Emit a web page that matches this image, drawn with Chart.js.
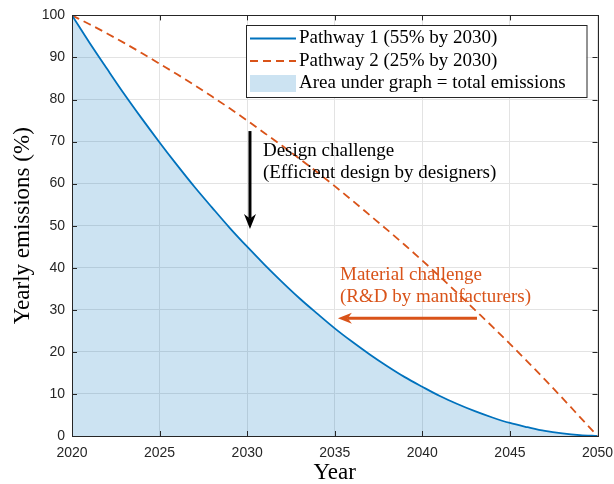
<!DOCTYPE html>
<html>
<head>
<meta charset="utf-8">
<script src="https://cdn.jsdelivr.net/npm/chart.js@4/dist/chart.umd.min.js"></script>
<style>
  html, body { margin: 0; padding: 0; background: #ffffff; }
  #wrap { width: 614px; height: 484px; }
</style>
</head>
<body>
<div id="wrap"><canvas id="c" width="614" height="484"></canvas></div>
<script>
// Years along the horizontal axis
const years = [2020, 2021, 2022, 2023, 2024, 2025, 2026, 2027, 2028, 2029,
               2030, 2031, 2032, 2033, 2034, 2035, 2036, 2037, 2038, 2039,
               2040, 2041, 2042, 2043, 2044, 2045, 2046, 2047, 2048, 2049, 2050];

// Yearly emissions (% of 2020 level), 55% cut by 2030
const pathway1 = [100, 93.5, 87.3, 81.2, 75.4, 69.8, 64.4, 59.2, 54.3, 49.5,
                  45.0, 40.7, 36.6, 32.7, 29.1, 25.6, 22.4, 19.4, 16.6, 14.0,
                  11.7, 9.5, 7.6, 5.9, 4.4, 3.1, 2.1, 1.2, 0.6, 0.2, 0];

// Yearly emissions (% of 2020 level), 25% cut by 2030
const pathway2 = [100, 97.9, 95.7, 93.4, 91.0, 88.5, 86.0, 83.4, 80.7, 77.9,
                  75.0, 72.0, 69.0, 65.9, 62.7, 59.4, 56.0, 52.5, 49.0, 45.4,
                  41.7, 37.9, 34.0, 30.0, 26.0, 21.9, 17.7, 13.4, 9.0, 4.5, 0];

const xTicks = [2020, 2025, 2030, 2035, 2040, 2045, 2050];
const yTicks = [0, 10, 20, 30, 40, 50, 60, 70, 80, 90, 100];

const seriesLabels = ['Pathway 1 (55% by 2030)', 'Pathway 2 (25% by 2030)',
                      'Area under graph = total emissions'];

const BLUE = '#0072BD';
const ORANGE = '#D95319';
const AXIS = '#262626';
const GRID = '#e3e3e3';
const FILL = 'rgba(0,114,189,0.2)';
const SERIF = '"Liberation Serif", "Times New Roman", serif';
const SANS = '"Liberation Sans", Arial, Helvetica, sans-serif';

const toPoints = vals => years.map((y, i) => ({ x: y, y: vals[i] }));

// Box outline with inward tick marks on all four sides
const boxPlugin = {
  id: 'box',
  afterDatasetsDraw(chart) {
    const { ctx, chartArea: a, scales: { x, y } } = chart;
    const len = 5;
    ctx.save();
    ctx.strokeStyle = AXIS;
    ctx.lineWidth = 1;
    ctx.beginPath();
    xTicks.forEach(v => {
      const px = Math.round(x.getPixelForValue(v)) + 0.5;
      ctx.moveTo(px, a.bottom); ctx.lineTo(px, a.bottom - len);
      ctx.moveTo(px, a.top); ctx.lineTo(px, a.top + len);
    });
    yTicks.forEach(v => {
      const py = Math.round(y.getPixelForValue(v)) + 0.5;
      ctx.moveTo(a.left, py); ctx.lineTo(a.left + len, py);
      ctx.moveTo(a.right, py); ctx.lineTo(a.right - len, py);
    });
    ctx.stroke();
    ctx.strokeRect(Math.round(a.left) + 0.5, Math.round(a.top) + 0.5,
                   Math.round(a.right - a.left), Math.round(a.bottom - a.top));
    ctx.restore();
  }
};

// Straight arrow with a swept-back head
function arrow(ctx, x1, y1, x2, y2, color, width, head, spread) {
  const ang = Math.atan2(y2 - y1, x2 - x1);
  const notch = head * 0.7;
  ctx.save();
  ctx.strokeStyle = color;
  ctx.fillStyle = color;
  ctx.lineWidth = width;
  ctx.beginPath();
  ctx.moveTo(x1, y1);
  ctx.lineTo(x2 - Math.cos(ang) * notch, y2 - Math.sin(ang) * notch);
  ctx.stroke();
  ctx.beginPath();
  ctx.moveTo(x2, y2);
  ctx.lineTo(x2 - head * Math.cos(ang) - spread * Math.sin(ang),
             y2 - head * Math.sin(ang) + spread * Math.cos(ang));
  ctx.lineTo(x2 - notch * Math.cos(ang), y2 - notch * Math.sin(ang));
  ctx.lineTo(x2 - head * Math.cos(ang) + spread * Math.sin(ang),
             y2 - head * Math.sin(ang) - spread * Math.cos(ang));
  ctx.closePath();
  ctx.fill();
  ctx.restore();
}

// Arrows and notes about the two challenges
const notesPlugin = {
  id: 'notes',
  afterDatasetsDraw(chart) {
    const { ctx, scales: { x, y } } = chart;
    arrow(ctx, x.getPixelForValue(2030.16), y.getPixelForValue(72.5),
               x.getPixelForValue(2030.16), y.getPixelForValue(49.2), '#000000', 3, 15, 6);
    arrow(ctx, x.getPixelForValue(2043.12), y.getPixelForValue(28.0),
               x.getPixelForValue(2035.18), y.getPixelForValue(28.0), ORANGE, 3, 14, 5.5);
    ctx.save();
    ctx.font = '19px ' + SERIF;
    ctx.textBaseline = 'middle';
    ctx.textAlign = 'left';
    ctx.fillStyle = '#000000';
    ctx.fillText('Design challenge', x.getPixelForValue(2030.9), y.getPixelForValue(67.8));
    ctx.fillText('(Efficient design by designers)', x.getPixelForValue(2030.9), y.getPixelForValue(62.6));
    ctx.fillStyle = ORANGE;
    ctx.fillText('Material challenge', x.getPixelForValue(2035.3), y.getPixelForValue(38.2));
    ctx.fillText('(R&D by manufacturers)', x.getPixelForValue(2035.3), y.getPixelForValue(33.0));
    ctx.restore();
  }
};

// Boxed legend in the upper right of the plot
const legendPlugin = {
  id: 'boxLegend',
  afterDatasetsDraw(chart) {
    const { ctx, chartArea: a } = chart;
    const left = 246, top = 25, right = a.right - 11, bottom = 97;
    ctx.save();
    ctx.fillStyle = '#ffffff';
    ctx.fillRect(left, top, right - left, bottom - top);
    ctx.strokeStyle = AXIS;
    ctx.lineWidth = 1;
    ctx.strokeRect(left + 0.5, top + 0.5, right - left, bottom - top);
    const rows = [38.5, 61, 83.5];
    const sx1 = left + 4, sx2 = left + 50, tx = left + 53;
    ctx.lineWidth = 1.8;
    ctx.strokeStyle = BLUE;
    ctx.beginPath(); ctx.moveTo(sx1, rows[0]); ctx.lineTo(sx2, rows[0]); ctx.stroke();
    ctx.strokeStyle = ORANGE;
    ctx.setLineDash([8, 5]);
    ctx.beginPath(); ctx.moveTo(sx1, rows[1]); ctx.lineTo(sx2, rows[1]); ctx.stroke();
    ctx.setLineDash([]);
    ctx.fillStyle = FILL;
    ctx.fillRect(sx1, rows[2] - 8.5, sx2 - sx1, 17);
    ctx.font = '19px ' + SERIF;
    ctx.fillStyle = '#000000';
    ctx.textBaseline = 'middle';
    seriesLabels.forEach((t, i) => ctx.fillText(t, tx, rows[i]));
    ctx.restore();
  }
};

new Chart(document.getElementById('c'), {
  type: 'line',
  data: {
    datasets: [
      {
        label: seriesLabels[0],
        data: toPoints(pathway1),
        borderColor: BLUE,
        backgroundColor: FILL,
        borderWidth: 1.8,
        fill: 'origin',
        pointRadius: 0,
        cubicInterpolationMode: 'monotone'
      },
      {
        label: seriesLabels[1],
        data: toPoints(pathway2),
        borderColor: ORANGE,
        borderWidth: 1.8,
        borderDash: [8, 5],
        fill: false,
        pointRadius: 0,
        cubicInterpolationMode: 'monotone'
      }
    ]
  },
  options: {
    responsive: false,
    animation: false,
    devicePixelRatio: 1,
    layout: { padding: { top: 14, right: 16.5, left: 0, bottom: 0 } },
    plugins: { legend: { display: false }, tooltip: { enabled: false } },
    scales: {
      x: {
        type: 'linear',
        min: 2020, max: 2050,
        afterBuildTicks: s => { s.ticks = xTicks.map(v => ({ value: v })); },
        afterFit: s => { s.height = 48; s.paddingLeft = 0; s.paddingRight = 0; },
        ticks: {
          callback: v => String(v),
          font: { family: SANS, size: 14 },
          color: AXIS,
          padding: 9,
          maxRotation: 0
        },
        grid: { color: GRID, drawTicks: false },
        border: { color: AXIS },
        title: {
          display: true, text: 'Year', color: '#000000',
          font: { family: SERIF, size: 23 }, padding: { top: 0, bottom: -3 }
        }
      },
      y: {
        min: 0, max: 100,
        afterBuildTicks: s => { s.ticks = yTicks.map(v => ({ value: v })); },
        afterFit: s => { s.width = 72; },
        ticks: {
          font: { family: SANS, size: 14 },
          color: AXIS,
          padding: 7
        },
        grid: { color: GRID, drawTicks: false },
        border: { color: AXIS },
        title: {
          display: true, text: 'Yearly emissions (%)', color: '#000000',
          font: { family: SERIF, size: 23 }, padding: { top: 9, bottom: 0 }
        }
      }
    }
  },
  plugins: [boxPlugin, notesPlugin, legendPlugin]
});
</script>
</body>
</html>
